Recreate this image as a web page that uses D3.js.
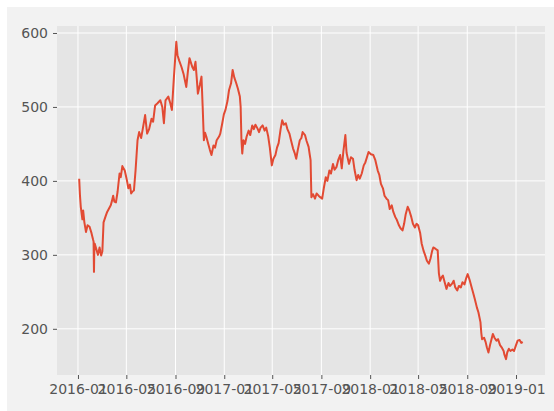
<!DOCTYPE html>
<html>
<head>
<meta charset="utf-8">
<script src="https://cdn.jsdelivr.net/npm/d3@7"></script>
<style>
  body { margin: 0; background: #ffffff; }
  text { font-family: "DejaVu Sans", sans-serif; }
</style>
</head>
<body>
<div id="chart"></div>
<script>
// price series (date, value)
const dates = [
  "2016-01-04","2016-01-06","2016-01-08","2016-01-12","2016-01-14","2016-01-17","2016-01-21","2016-01-25",
  "2016-01-30","2016-02-04","2016-02-08","2016-02-09","2016-02-10","2016-02-11","2016-02-12","2016-02-20",
  "2016-02-24","2016-02-28","2016-03-02","2016-03-05","2016-03-10","2016-03-14","2016-03-18","2016-03-23",
  "2016-03-26","2016-03-29","2016-04-01","2016-04-05","2016-04-09","2016-04-14","2016-04-17","2016-04-21",
  "2016-04-27","2016-05-02","2016-05-06","2016-05-10","2016-05-13","2016-05-17","2016-05-20","2016-05-24",
  "2016-05-29","2016-06-02","2016-06-07","2016-06-11","2016-06-17","2016-06-22","2016-06-27","2016-07-03",
  "2016-07-07","2016-07-12","2016-07-18","2016-07-25","2016-07-30","2016-08-03","2016-08-07","2016-08-14",
  "2016-08-19","2016-08-23","2016-08-28","2016-09-03","2016-09-06","2016-09-10","2016-09-16","2016-09-21",
  "2016-09-28","2016-10-02","2016-10-06","2016-10-13","2016-10-17","2016-10-21","2016-10-24","2016-10-27",
  "2016-11-01","2016-11-05","2016-11-08","2016-11-11","2016-11-14","2016-11-17","2016-11-22","2016-11-26",
  "2016-11-30","2016-12-05","2016-12-09","2016-12-13","2016-12-19","2016-12-22","2016-12-27","2016-12-31",
  "2017-01-04","2017-01-09","2017-01-13","2017-01-18","2017-01-22","2017-01-26","2017-01-31","2017-02-04",
  "2017-02-09","2017-02-11","2017-02-13","2017-02-15","2017-02-18","2017-02-22","2017-02-26","2017-03-03",
  "2017-03-07","2017-03-12","2017-03-16","2017-03-20","2017-03-25","2017-03-29","2017-04-02","2017-04-07",
  "2017-04-12","2017-04-16","2017-04-21","2017-04-25","2017-04-30","2017-05-04","2017-05-09","2017-05-13",
  "2017-05-17","2017-05-22","2017-05-26","2017-05-30","2017-06-04","2017-06-08","2017-06-13","2017-06-17",
  "2017-06-22","2017-06-26","2017-06-30","2017-07-04","2017-07-09","2017-07-13","2017-07-16","2017-07-22",
  "2017-07-26","2017-07-31","2017-08-03","2017-08-05","2017-08-07","2017-08-11","2017-08-16","2017-08-20",
  "2017-08-25","2017-08-29","2017-09-03","2017-09-07","2017-09-12","2017-09-16","2017-09-21","2017-09-25",
  "2017-09-30","2017-10-04","2017-10-09","2017-10-13","2017-10-18","2017-10-22","2017-10-26","2017-10-31",
  "2017-11-03","2017-11-09","2017-11-14","2017-11-19","2017-11-23","2017-11-28","2017-12-02","2017-12-06",
  "2017-12-11","2017-12-16","2017-12-20","2017-12-24","2017-12-28","2018-01-03","2018-01-09","2018-01-14",
  "2018-01-20","2018-01-24","2018-01-28","2018-02-02","2018-02-06","2018-02-11","2018-02-15","2018-02-19",
  "2018-02-24","2018-02-28","2018-03-05","2018-03-09","2018-03-14","2018-03-18","2018-03-23","2018-03-27",
  "2018-03-31","2018-04-05","2018-04-09","2018-04-14","2018-04-18","2018-04-23","2018-04-27","2018-05-01",
  "2018-05-06","2018-05-10","2018-05-15","2018-05-19","2018-05-23","2018-05-28","2018-06-01","2018-06-05",
  "2018-06-08","2018-06-14","2018-06-19","2018-06-22","2018-06-25","2018-06-29","2018-07-02","2018-07-07",
  "2018-07-11","2018-07-16","2018-07-20","2018-07-25","2018-07-29","2018-08-02","2018-08-07","2018-08-11",
  "2018-08-16","2018-08-20","2018-08-25","2018-08-29","2018-09-02","2018-09-07","2018-09-11","2018-09-16",
  "2018-09-20","2018-09-25","2018-09-29","2018-10-04","2018-10-06","2018-10-08","2018-10-13","2018-10-17",
  "2018-10-20","2018-10-24","2018-10-28","2018-11-04","2018-11-08","2018-11-13","2018-11-17","2018-11-22",
  "2018-11-26","2018-12-01","2018-12-03","2018-12-07","2018-12-10","2018-12-14","2018-12-18","2018-12-23",
  "2018-12-27","2019-01-01","2019-01-05","2019-01-10","2019-01-14","2019-01-18"
];
const prices = [
  403,380,365,348,360,344,331,340,
  338,329,320,318,277,312,315,300,
  310,299,305,344,352,358,362,367,
  373,380,372,371,385,410,405,420,
  414,402,390,395,383,386,387,414,
  455,466,458,470,489,464,470,484,
  480,502,505,509,500,478,509,514,
  505,496,540,588,570,563,554,545,
  527,548,566,554,550,561,540,518,
  530,541,500,455,465,460,450,442,
  435,448,445,455,460,464,478,490,
  496,508,523,532,550,540,532,525,
  514,500,455,437,455,450,460,468,
  462,475,470,476,471,466,472,475,
  468,472,460,445,421,430,435,445,
  451,470,482,476,478,470,464,455,
  444,438,430,442,455,458,466,462,
  454,446,435,428,378,382,376,383,
  380,378,376,390,405,400,414,410,
  423,415,419,428,435,417,440,462,
  438,423,432,430,415,401,408,403,
  410,421,425,432,439,436,435,428,
  414,408,396,390,380,376,374,362,
  367,358,351,347,340,336,333,342,
  355,365,360,351,342,337,342,340,
  330,315,305,299,292,288,295,305,
  310,308,306,275,265,270,272,262,
  254,262,258,261,265,256,252,258,
  256,263,260,268,274,266,258,248,
  240,229,222,209,195,186,188,182,
  175,168,178,193,188,184,186,178,
  175,170,165,159,168,173,170,172,
  170,178,184,185,181,182
];
const yTicks = [200, 300, 400, 500, 600];

const W = 554, H = 411;
const margin = {top: 26, right: 9, bottom: 36, left: 57};

const parse = d3.timeParse("%Y-%m-%d");
const data = dates.map((d, i) => ({date: parse(d), value: prices[i]}));

const svg = d3.select("#chart").append("svg")
  .attr("width", W)
  .attr("height", H);

// figure background
svg.append("rect")
  .attr("x", 7).attr("y", 7)
  .attr("width", W - 7).attr("height", H - 7)
  .attr("fill", "#f2f2f2");

// matplotlib style 5% padding on both axes
const xExt = d3.extent(data, d => d.date);
const xPad = (xExt[1] - xExt[0]) * 0.05;
const yExt = d3.extent(data, d => d.value);
const yPad = (yExt[1] - yExt[0]) * 0.05;

const x = d3.scaleTime()
  .domain([new Date(+xExt[0] - xPad), new Date(+xExt[1] + xPad)])
  .range([margin.left, W - margin.right]);

const y = d3.scaleLinear()
  .domain([yExt[0] - yPad, yExt[1] + yPad])
  .range([H - margin.bottom, margin.top]);

// plot area
svg.append("rect")
  .attr("x", margin.left).attr("y", margin.top)
  .attr("width", W - margin.right - margin.left)
  .attr("height", H - margin.bottom - margin.top)
  .attr("fill", "#e5e5e5");

const xTicks = d3.timeMonth.every(4).range(d3.timeMonth.floor(xExt[0]), x.domain()[1]);

// grid lines
svg.append("g")
  .selectAll("line")
  .data(xTicks)
  .join("line")
  .attr("x1", d => x(d)).attr("x2", d => x(d))
  .attr("y1", margin.top).attr("y2", H - margin.bottom)
  .attr("stroke", "#ffffff").attr("stroke-width", 1);

svg.append("g")
  .selectAll("line")
  .data(yTicks)
  .join("line")
  .attr("x1", margin.left).attr("x2", W - margin.right)
  .attr("y1", d => y(d)).attr("y2", d => y(d))
  .attr("stroke", "#ffffff").attr("stroke-width", 1);

// axes
const xAxis = svg.append("g")
  .attr("transform", `translate(0,${H - margin.bottom})`)
  .call(d3.axisBottom(x).tickValues(xTicks).tickFormat(d3.timeFormat("%Y-%m")).tickSize(4).tickPadding(5));

const yAxis = svg.append("g")
  .attr("transform", `translate(${margin.left},0)`)
  .call(d3.axisLeft(y).tickValues(yTicks).tickSize(4).tickPadding(5));

[xAxis, yAxis].forEach(g => {
  g.select(".domain").remove();
  g.selectAll(".tick line").attr("stroke", "#555555");
  g.selectAll(".tick text")
    .attr("fill", "#555555")
    .style("font-size", "14px")
    .style("font-family", "'DejaVu Sans', sans-serif");
});

// the series
const line = d3.line()
  .x(d => x(d.date))
  .y(d => y(d.value));

svg.append("path")
  .datum(data)
  .attr("fill", "none")
  .attr("stroke", "#E24A33")
  .attr("stroke-width", 2)
  .attr("stroke-linejoin", "round")
  .attr("d", line);
</script>
</body>
</html>
